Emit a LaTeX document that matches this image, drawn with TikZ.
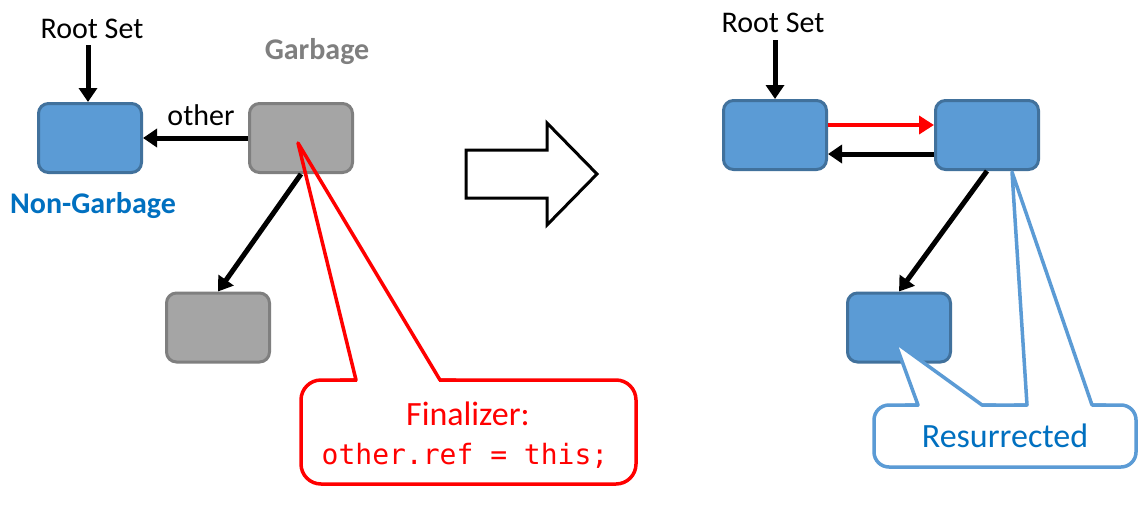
\documentclass[tikz,border=0pt]{standalone}
\usepackage{fontspec}
\setmainfont{Carlito}
\newfontfamily\codefont{DejaVu Sans Mono}
\usetikzlibrary{arrows.meta}
\definecolor{boxblue}{HTML}{5B9BD5}
\definecolor{boxblueline}{HTML}{41719C}
\definecolor{boxgray}{HTML}{A5A5A5}
\definecolor{boxgrayline}{HTML}{7F7F7F}
\definecolor{textblue}{HTML}{0070C0}
\definecolor{textgray}{HTML}{7F7F7F}
\definecolor{myred}{HTML}{FF0000}
\begin{document}
\begin{tikzpicture}[x=1pt,y=-1pt,
  obj/.style={draw, line width=3pt, rounded corners=10pt, minimum width=103pt, minimum height=69pt, inner sep=0pt},
  live/.style={obj, fill=boxblue, draw=boxblueline},
  dead/.style={obj, fill=boxgray, draw=boxgrayline},
  lbl/.style={anchor=base, inner sep=0pt, font=\fontsize{30}{36}\selectfont},
  biglbl/.style={anchor=base, inner sep=0pt, font=\fontsize{34}{40}\selectfont},
  ptr/.style={line width=5pt, -{Triangle[length=14pt,width=18pt]}},
  calloutline/.style={line width=3.5pt, line join=round},
]
\fill[white] (0,0) rectangle (1147,506);
\useasboundingbox (0,0) rectangle (1147,506);

% ---------- left: before ----------
\node[live] (n1) at (90,138) {};
\node[dead] (g1) at (301,138) {};
\node[dead] (g2) at (218,327.5) {};

\node[lbl] (root1) at (92,38) {Root Set};
\node[lbl, text=textgray, font=\bfseries\fontsize{30}{36}\selectfont] (garb) at (317,59) {Garbage};
\node[lbl] (other) at (201,125) {other};
\node[lbl, text=textblue, font=\bfseries\fontsize{30}{36}\selectfont] (nong) at (93,213) {Non-Garbage};

\coordinate (r1) at (88,45);
\draw[ptr] (r1) -- (n1.north -| r1);
\draw[ptr] (g1.west) -- (n1.east);
\draw[ptr] (g1.south) -- (g2.north);

% red callout
\node[biglbl, text=myred] (fin) at (468,425) {Finalizer:};
\node[anchor=base, inner sep=0pt, text=myred, font=\codefont\fontsize{28}{34}\selectfont] (code) at (465,464) {other.ref = this;};
\draw[myred, line width=3.5pt, rounded corners=20pt] (301,380) rectangle (636,484);
\fill[white] (357,377) rectangle (439,383);
\draw[myred, calloutline] (340,380) -- (356,380) -- (298,143) -- (440,380) -- (456,380);

% ---------- middle: big hollow arrow ----------
\draw[line width=3pt, line join=miter] (466,150) -- (547,150) -- (547,123) -- (597,174) -- (547,225) -- (547,198) -- (466,198) -- cycle;

% ---------- right: after ----------
\node[live] (a) at (775,135) {};
\node[live] (b) at (987,135) {};
\node[live] (c) at (899,327.5) {};

\node[lbl] (root2) at (773,32) {Root Set};
\coordinate (r2) at (775,40);
\draw[ptr] (r2) -- (a.north);
\draw[line width=4.5pt, myred, -{Triangle[length=15pt,width=18pt]}] (a.east |- 0,125) -- (b.west |- 0,125);
\draw[ptr] (b.west |- 0,154) -- (a.east |- 0,154);
\draw[ptr] (b.south) -- (c.north);

% blue callout
\draw[fill=white, draw=boxblue, line width=3.5pt, rounded corners=15pt] (874,405) rectangle (1136,467);
\fill[white] (918.7,407) -- (895,342) -- (984.8,407) -- cycle;
\fill[white] (1027.1,407) -- (1012,172) -- (1092.7,407) -- cycle;
\draw[boxblue, calloutline] (905,405) -- (918,405) -- (895,342) -- (982,405) -- (996,405);
\draw[boxblue, calloutline] (1014,405) -- (1027,405) -- (1012,172) -- (1092,405) -- (1106,405);
\node[biglbl, text=textblue] (res) at (1005,447) {Resurrected};
\end{tikzpicture}
\end{document}
